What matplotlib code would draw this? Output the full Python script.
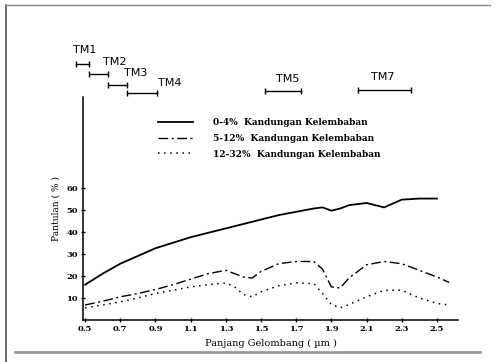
import matplotlib
matplotlib.use("Agg")
import matplotlib.pyplot as plt
from matplotlib.lines import Line2D

# ---- data ----
wavelength = [0.5, 0.6, 0.7, 0.8, 0.9, 1.0, 1.1, 1.2, 1.3, 1.35, 1.4, 1.45, 1.5,
              1.6, 1.7, 1.8, 1.85, 1.9, 1.95, 2.0, 2.1, 2.2, 2.3, 2.4, 2.5, 2.57]
moist_0_4 = [16, 21, 25.5, 29, 32.5, 35, 37.5, 39.5, 41.5, 42.5, 43.5, 44.5, 45.5,
             47.5, 49, 50.5, 51, 49.5, 50.5, 52, 53, 51, 54.5, 55, 55, None]
moist_5_12 = [6.8, 8.5, 10.5, 12, 13.8, 16, 18.5, 21, 22.5, 21, 19.5, 19, 22,
              25.5, 26.5, 26.5, 23, 15, 14.5, 19, 25, 26.5, 25.5, 22.5, 19.5, 17]
moist_12_32 = [5.5, 6.8, 8.2, 10, 12, 13.5, 15, 16, 16.8, 15, 11.5, 10.5, 12.8,
               15.5, 16.8, 16.5, 12, 7, 5.5, 7, 10.5, 13.5, 13.5, 10, 7.5, 6.8]
series_labels = ["0-4%  Kandungan Kelembaban",
                 "5-12%  Kandungan Kelembaban",
                 "12-32%  Kandungan Kelembaban"]

band_names = ["TM1", "TM2", "TM3", "TM4", "TM5", "TM7"]
band_start = [0.45, 0.52, 0.63, 0.74, 1.52, 2.05]
band_end = [0.52, 0.63, 0.74, 0.91, 1.73, 2.35]

xticks = [0.5, 0.7, 0.9, 1.1, 1.3, 1.5, 1.7, 1.9, 2.1, 2.3, 2.5]
xticklabels = ["0.5", "0.7", "0.9", "1.1", "1.3", "1.5", "1.7", "1.9", "2.1", "2.3", "2.5"]
yticks = [10, 20, 30, 40, 50, 60]

# ---- layout ----
W, H = 495, 362
fig = plt.figure(figsize=(W / 100, H / 100), dpi=100)
ax = fig.add_axes([83 / W, 1 - 320 / H, (458 - 83) / W, (320 - 97) / H])
ax.set_xlim(0.488, 2.62)
ax.set_ylim(0, 101)

ax.plot(wavelength, [v if v is not None else float("nan") for v in moist_0_4],
        color="black", lw=1.3, ls="-")
ax.plot(wavelength, moist_5_12, color="black", lw=1.0, ls=(0, (7, 2.5, 1.5, 2.5)))
ax.plot(wavelength, moist_12_32, color="black", lw=1.1, ls=(0, (1, 3)))

for sp in ["top", "right"]:
    ax.spines[sp].set_visible(False)
for sp in ["left", "bottom"]:
    ax.spines[sp].set_linewidth(1.1)

ax.set_xticks(xticks)
ax.set_xticklabels(xticklabels)
ax.set_yticks(yticks)
ax.tick_params(direction="inout", length=3, width=1, labelsize=6, pad=2)
for t in ax.get_xticklabels() + ax.get_yticklabels():
    t.set_fontfamily("DejaVu Serif")
    t.set_fontweight("bold")

ax.set_xlabel("Panjang Gelombang ( µm )", fontsize=7, family="DejaVu Serif",
              labelpad=4)
ax.set_ylabel("Pantulan ( % )", fontsize=6.5, family="DejaVu Serif", labelpad=4)

# TM band bars (above the plot)
bar_y = [116, 111.5, 106.5, 103, 103.5, 104]
lab_xy = [(0.5, 122.5), (0.67, 117), (0.79, 112), (0.98, 107.5), (1.65, 109), (2.19, 110)]
for name, a, b, yy, (lx, ly) in zip(band_names, band_start, band_end, bar_y, lab_xy):
    ax.plot([a, b], [yy, yy], color="black", lw=1.0, marker="|", markersize=4,
            clip_on=False)
    ax.text(lx, ly, name, fontsize=8, ha="center", va="center", clip_on=False)

# legend
handles = [Line2D([], [], color="black", lw=1.3, ls="-"),
           Line2D([], [], color="black", lw=1.0, ls=(0, (7, 2.5, 1.5, 2.5))),
           Line2D([], [], color="black", lw=1.1, ls=(0, (1, 3)))]
leg = fig.legend(handles, series_labels, loc="upper left",
                 bbox_to_anchor=(158 / W, 1 - 118 / H), frameon=False,
                 borderpad=0, borderaxespad=0, handlelength=3.9,
                 handletextpad=2.2, labelspacing=0.75,
                 prop={"family": "DejaVu Serif", "weight": "bold", "size": 6.5})

# page frame from scan
fig.add_artist(Line2D([6 / W, 6 / W], [0, 1 - 5 / H], color="#555555", lw=1.2,
                      transform=fig.transFigure))
fig.add_artist(Line2D([6 / W, 490 / W], [1 - 5 / H, 1 - 5 / H], color="#888888",
                      lw=1.0, transform=fig.transFigure))
fig.add_artist(Line2D([15 / W, 480 / W], [1 - 352 / H, 1 - 352 / H], color="#999999",
                      lw=2.0, transform=fig.transFigure))

fig.savefig("out.png", dpi=100)
